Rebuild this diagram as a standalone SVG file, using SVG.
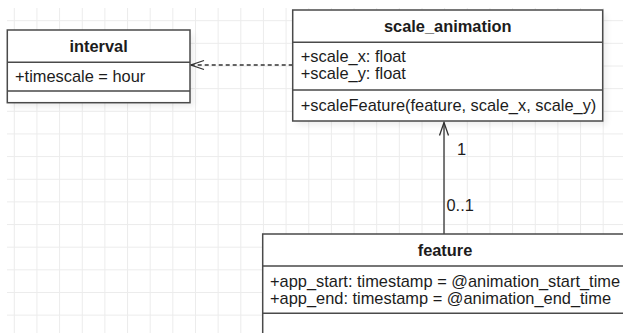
<svg xmlns="http://www.w3.org/2000/svg" width="623" height="333" viewBox="0 0 623 333">
  <defs>
    <filter id="soft" x="-10%" y="-10%" width="130%" height="140%">
      <feGaussianBlur stdDeviation="3"/>
    </filter>
    <style>
      .grid { stroke: #ececec; stroke-width: 1; fill: none; }
      .box { fill: #ffffff; stroke: #4a4a4a; stroke-width: 1.5; }
      .shadow { fill: #000000; opacity: 0.07; filter: url(#soft); }
      .div { stroke: #4a4a4a; stroke-width: 1.5; fill: none; }
      text { font-family: "Liberation Sans", Arial, sans-serif; font-size: 16.4px; fill: #1c1c1c; }
      .title { font-weight: bold; text-anchor: middle; }
      .edge { stroke: #333333; stroke-width: 1.3; fill: none; }
      .dashed { stroke-dasharray: 4 3; }
    </style>
  </defs>

  <rect width="623" height="333" fill="#ffffff"/>

  <!-- background grid -->
  <path class="grid" d="M14.3 8V333M36.95 8V333M59.6 8V333M82.25 8V333M104.9 8V333M127.55 8V333M150.2 8V333M172.85 8V333M195.5 8V333M218.15 8V333M240.8 8V333M263.45 8V333M286.1 8V333M308.75 8V333M331.4 8V333M354.05 8V333M376.7 8V333M399.35 8V333M422 8V333M444.65 8V333M467.3 8V333M489.95 8V333M512.6 8V333M535.25 8V333M557.9 8V333M580.55 8V333M603.2 8V333
    M7 20.7H623M7 43.35H623M7 66H623M7 88.65H623M7 111.3H623M7 133.95H623M7 156.6H623M7 179.25H623M7 201.9H623M7 224.55H623M7 247.2H623M7 269.85H623M7 292.5H623M7 315.15H623"/>

  <!-- connectors -->
  <g id="connectors">
    <g id="edge-feature-scale">
      <path class="edge" d="M444 234V122.5"/>
      <path class="edge" d="M439.5 135.5L444 122.5L448.5 135.5"/>
      <text x="457" y="154.8">1</text>
      <text x="446.5" y="210.8">0..1</text>
    </g>
    <g id="edge-scale-interval">
      <path class="edge dashed" d="M292.7 65H191"/>
      <path class="edge" d="M204 60.5L190.8 65L204 69.5"/>
    </g>
  </g>

  <!-- class: interval -->
  <g id="interval">
    <rect class="shadow" x="11" y="34" width="182.7" height="72.7"/>
    <rect class="box" x="7.3" y="30" width="182.7" height="72.7"/>
    <path class="div" d="M7.3 62.3H190M7.3 91H190"/>
    <text class="title" x="98.6" y="52.4">interval</text>
    <text x="15" y="81.6">+timescale = hour</text>
  </g>

  <!-- class: scale_animation -->
  <g id="scale_animation">
    <rect class="shadow" x="296.5" y="14" width="310" height="111"/>
    <rect class="box" x="292.7" y="10" width="310" height="111"/>
    <path class="div" d="M292.7 42.3H602.7M292.7 90H602.7"/>
    <text class="title" x="447.7" y="31.7">scale_animation</text>
    <text x="300.7" y="61.6">+scale_x: float</text>
    <text x="300.7" y="79">+scale_y: float</text>
    <text x="300.7" y="110.6">+scaleFeature(feature, scale_x, scale_y)</text>
  </g>

  <!-- class: feature -->
  <g id="feature">
    <rect class="shadow" x="266.5" y="238" width="365" height="110"/>
    <rect class="box" x="262.7" y="234" width="365" height="110"/>
    <path class="div" d="M262.7 266H627.7M262.7 313.3H627.7"/>
    <text class="title" x="445" y="256.4">feature</text>
    <text x="270" y="286.6">+app_start: timestamp = @animation_start_time</text>
    <text x="270" y="303.9">+app_end: timestamp = @animation_end_time</text>
  </g>
</svg>
